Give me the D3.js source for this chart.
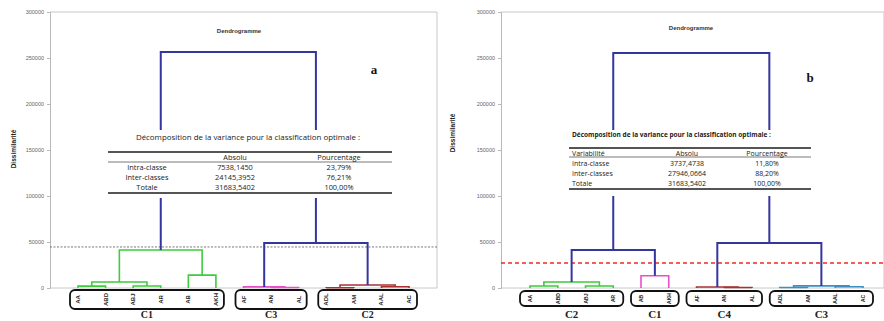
<!DOCTYPE html>
<html>
<head>
<meta charset="utf-8">
<script src="https://cdn.jsdelivr.net/npm/d3@7"></script>
<style>
  body { margin: 0; background: #fff; }
  svg { display: block; }
</style>
</head>
<body>
<svg id="chart" width="884" height="321"></svg>
<script>
// ---------------- DATA ----------------
const yTicks = [0, 50000, 100000, 150000, 200000, 250000, 300000];

// Panel a
const leavesA = ["AA", "ABD", "ABJ", "AR", "AB", "AKH", "AF", "AN", "AL", "ADL", "AM", "AAL", "AC"];
// [left, right, height, group]  (m0, m1, ... refer to earlier merges)
const mergesA = [
  ["AA", "ABD", 2000, "C1"],      // m0
  ["ABJ", "AR", 2200, "C1"],      // m1
  ["m0", "m1", 6500, "C1"],       // m2
  ["AB", "AKH", 14000, "C1"],     // m3
  ["m2", "m3", 41300, "C1"],      // m4
  ["AN", "AL", 500, "C3"],        // m5
  ["AF", "m5", 1200, "C3"],       // m6
  ["ADL", "AM", 300, "C2"],       // m7
  ["AAL", "AC", 1400, "C2"],      // m8
  ["m7", "m8", 3200, "C2"],       // m9
  ["m6", "m9", 48900, "top"],     // m10
  ["m4", "m10", 256500, "top"]    // m11
];
const clustersA = [
  { name: "C1", leaves: ["AA", "ABD", "ABJ", "AR", "AB", "AKH"] },
  { name: "C3", leaves: ["AF", "AN", "AL"] },
  { name: "C2", leaves: ["ADL", "AM", "AAL", "AC"] }
];
const cutA = 44600;
const tableHeaderA = ["", "Absolu", "Pourcentage"];
const tableRowsA = [
  ["Intra-classe", "7538,1450", "23,79%"],
  ["Inter-classes", "24145,3952", "76,21%"],
  ["Totale", "31683,5402", "100,00%"]
];

// Panel b
const leavesB = ["AA", "ABD", "ABJ", "AR", "AB", "AKH", "AF", "AN", "AL", "ADL", "AM", "AAL", "AC"];
const mergesB = [
  ["AA", "ABD", 2100, "C2"],      // m0
  ["ABJ", "AR", 2200, "C2"],      // m1
  ["m0", "m1", 6500, "C2"],       // m2
  ["AB", "AKH", 13300, "C1"],     // m3
  ["m2", "m3", 41300, "top"],     // m4
  ["AN", "AL", 500, "C4"],        // m5
  ["AF", "m5", 1100, "C4"],       // m6
  ["ADL", "AM", 500, "C3"],       // m7
  ["AAL", "AC", 1400, "C3"],      // m8
  ["m7", "m8", 2300, "C3"],       // m9
  ["m6", "m9", 48900, "top"],     // m10
  ["m4", "m10", 255400, "top"]    // m11
];
const clustersB = [
  { name: "C2", leaves: ["AA", "ABD", "ABJ", "AR"] },
  { name: "C1", leaves: ["AB", "AKH"] },
  { name: "C4", leaves: ["AF", "AN", "AL"] },
  { name: "C3", leaves: ["ADL", "AM", "AAL", "AC"] }
];
const cutB = 27200;
const tableHeaderB = ["Variabilité", "Absolu", "Pourcentage"];
const tableRowsB = [
  ["Intra-classe", "3737,4738", "11,80%"],
  ["Inter-classes", "27946,0664", "88,20%"],
  ["Totale", "31683,5402", "100,00%"]
];

const tableTitle = "Décomposition de la variance pour la classification optimale :";

// ---------------- DRAWING ----------------
const svg = d3.select("#chart");
svg.append("rect").attr("width", 884).attr("height", 321).attr("fill", "#fff");

const colorsA = { C1: "#3ccc3c", C2: "#a83232", C3: "#e650c8", top: "#35359f" };
const colorsB = { C2: "#3ccc3c", C1: "#e650c8", C4: "#a83232", C3: "#3b8fc4", top: "#35359f" };

function panel(cfg) {
  const g = svg.append("g");
  const y = d3.scaleLinear().domain([0, 300000]).range([288, 12]);
  const x = d3.scalePoint().domain(cfg.leaves).range(cfg.leafRange);

  // frame
  g.append("path")
    .attr("d", `M${cfg.left},${y(0)}H${cfg.right}V${y(300000)}H${cfg.left}`)
    .attr("fill", "none").attr("stroke", "#c8c8c8").attr("stroke-width", 1);

  // axis
  const ax = g.append("g").attr("transform", `translate(${cfg.left},0)`)
    .call(d3.axisLeft(y).tickValues(yTicks).tickFormat(d3.format("d")).tickSize(3).tickPadding(3));
  ax.select(".domain").attr("stroke", "#b8b8b8");
  ax.selectAll(".tick line").attr("stroke", "#b8b8b8");
  ax.selectAll(".tick text").attr("font-family", "Liberation Sans, Arial, sans-serif")
    .attr("font-size", 5.5).attr("fill", "#666");

  // axis title
  g.append("text")
    .attr("transform", `translate(${cfg.yTitleX},${cfg.yTitleY}) rotate(-90)`)
    .attr("text-anchor", "middle")
    .attr("font-family", "Liberation Sans Narrow, Liberation Sans, Arial, sans-serif")
    .attr("font-weight", "bold").attr("font-size", 6.5).attr("fill", "#222")
    .text("Dissimilarité");

  // chart title
  g.append("text").attr("x", cfg.titleX).attr("y", cfg.titleY)
    .attr("text-anchor", "middle")
    .attr("font-family", "Liberation Sans, Arial, sans-serif")
    .attr("font-weight", "bold").attr("font-size", 6).attr("fill", "#333")
    .text("Dendrogramme");

  // cut line
  g.append("line")
    .attr("x1", cfg.left).attr("x2", cfg.right)
    .attr("y1", y(cfg.cut)).attr("y2", y(cfg.cut))
    .attr("stroke", cfg.cutColor).attr("stroke-width", cfg.cutWidth)
    .attr("stroke-dasharray", cfg.cutDash);

  // dendrogram
  const nodes = {};
  cfg.leaves.forEach(l => nodes[l] = { x: x(l), h: 0 });
  cfg.merges.forEach((m, i) => {
    const a = nodes[m[0]], b = nodes[m[1]];
    const node = { x: (a.x + b.x) / 2, h: m[2] };
    nodes["m" + i] = node;
    const col = cfg.colors[m[3]];
    g.append("path")
      .attr("d", `M${a.x},${y(a.h)}V${y(m[2])}H${b.x}V${y(b.h)}`)
      .attr("fill", "none").attr("stroke", col)
      .attr("stroke-width", m[3] === "top" ? 2 : 1.6)
      .attr("stroke-linejoin", "miter");
  });

  // table (white background hides lines)
  const t = cfg.table;
  g.append("rect").attr("x", t.bgX0).attr("y", t.bgY0)
    .attr("width", t.bgX1 - t.bgX0).attr("height", t.bgY1 - t.bgY0).attr("fill", "#fff");
  g.append("text").attr("x", t.titleX).attr("y", t.titleY)
    .attr("text-anchor", t.titleAnchor)
    .attr("font-family", "Open Sans, Noto Sans, sans-serif")
    .attr("font-weight", t.titleWeight).attr("font-size", t.titleSize).attr("fill", "#222")
    .text(tableTitle);
  [[t.line0, 2], [t.line1, 0.8], [t.line2, 2]].forEach(([ly, w]) => {
    g.append("line").attr("x1", t.x0).attr("x2", t.x1).attr("y1", ly).attr("y2", ly)
      .attr("stroke", "#555").attr("stroke-width", w);
  });
  const rows = [cfg.header].concat(cfg.rows);
  rows.forEach((r, ri) => {
    r.forEach((c, ci) => {
      g.append("text")
        .attr("x", t.colX[ci]).attr("y", t.rowY[ri])
        .attr("text-anchor", t.colAnchor[ci])
        .attr("font-family", "Open Sans, Noto Sans, sans-serif")
        .attr("font-size", t.fontSize).attr("fill", "#1a1a1a")
        .text(c);
    });
  });

  // leaf labels
  cfg.leaves.forEach(l => {
    g.append("text")
      .attr("transform", `translate(${x(l) + 2},${cfg.leafLabelY}) rotate(-90)`)
      .attr("text-anchor", "middle")
      .attr("font-family", "Liberation Sans Narrow, Liberation Sans, Arial, sans-serif")
      .attr("font-weight", "bold").attr("font-size", cfg.leafFont).attr("fill", "#222")
      .text(l);
  });

  // cluster boxes
  cfg.clusters.forEach(c => {
    const xs = c.leaves.map(l => x(l));
    const x0 = d3.min(xs) - cfg.boxPad, x1 = d3.max(xs) + cfg.boxPad;
    g.append("rect").attr("x", x0).attr("y", cfg.boxY0)
      .attr("width", x1 - x0).attr("height", cfg.boxY1 - cfg.boxY0)
      .attr("rx", 5).attr("ry", 5)
      .attr("fill", "none").attr("stroke", "#111").attr("stroke-width", 1.8);
    g.append("text").attr("x", (x0 + x1) / 2).attr("y", cfg.clusterLabelY)
      .attr("text-anchor", "middle")
      .attr("font-family", "Liberation Serif, Times New Roman, serif")
      .attr("font-weight", "bold").attr("font-size", cfg.clusterFont).attr("fill", "#222")
      .text(c.name);
  });

  // panel letter
  g.append("text").attr("x", cfg.letterX).attr("y", cfg.letterY)
    .attr("text-anchor", "middle")
    .attr("font-family", "Liberation Serif, Times New Roman, serif")
    .attr("font-weight", "bold").attr("font-size", 13).attr("fill", "#111")
    .text(cfg.letter);
}

panel({
  leaves: leavesA, merges: mergesA, clusters: clustersA, colors: colorsA,
  header: tableHeaderA, rows: tableRowsA, cut: cutA,
  cutColor: "#777", cutWidth: 1, cutDash: "2,1.5",
  left: 50, right: 437, leafRange: [78, 409],
  yTitleX: 16, yTitleY: 149, titleX: 239, titleY: 33,
  leafLabelY: 299.5, leafFont: 6, boxPad: 8, boxY0: 290, boxY1: 309,
  clusterLabelY: 317.5, clusterFont: 10,
  letter: "a", letterX: 374, letterY: 74,
  table: {
    bgX0: 104, bgX1: 396, bgY0: 130, bgY1: 198,
    titleX: 248, titleY: 140, titleAnchor: "middle", titleWeight: "normal", titleSize: 7.9,
    x0: 108, x1: 392, line0: 152, line1: 162, line2: 193,
    colX: [147, 235, 339], colAnchor: ["middle", "middle", "middle"],
    rowY: [160, 170, 180, 190], fontSize: 7.4
  }
});

panel({
  leaves: leavesB, merges: mergesB, clusters: clustersB, colors: colorsB,
  header: tableHeaderB, rows: tableRowsB, cut: cutB,
  cutColor: "#ee2a2a", cutWidth: 1.4, cutDash: "4,3",
  left: 501, right: 884, leafRange: [530, 863],
  yTitleX: 455, yTitleY: 133, titleX: 691, titleY: 30,
  leafLabelY: 298.5, leafFont: 5, boxPad: 10, boxY0: 291, boxY1: 306,
  clusterLabelY: 318, clusterFont: 11,
  letter: "b", letterX: 810, letterY: 82,
  table: {
    bgX0: 565, bgX1: 816, bgY0: 130, bgY1: 196,
    titleX: 572, titleY: 137, titleAnchor: "start", titleWeight: "bold", titleSize: 6.5,
    x0: 569, x1: 811, line0: 148, line1: 157, line2: 189,
    colX: [572, 687, 767], colAnchor: ["start", "middle", "middle"],
    rowY: [155.5, 166, 176, 186], fontSize: 7
  }
});
</script>
</body>
</html>
